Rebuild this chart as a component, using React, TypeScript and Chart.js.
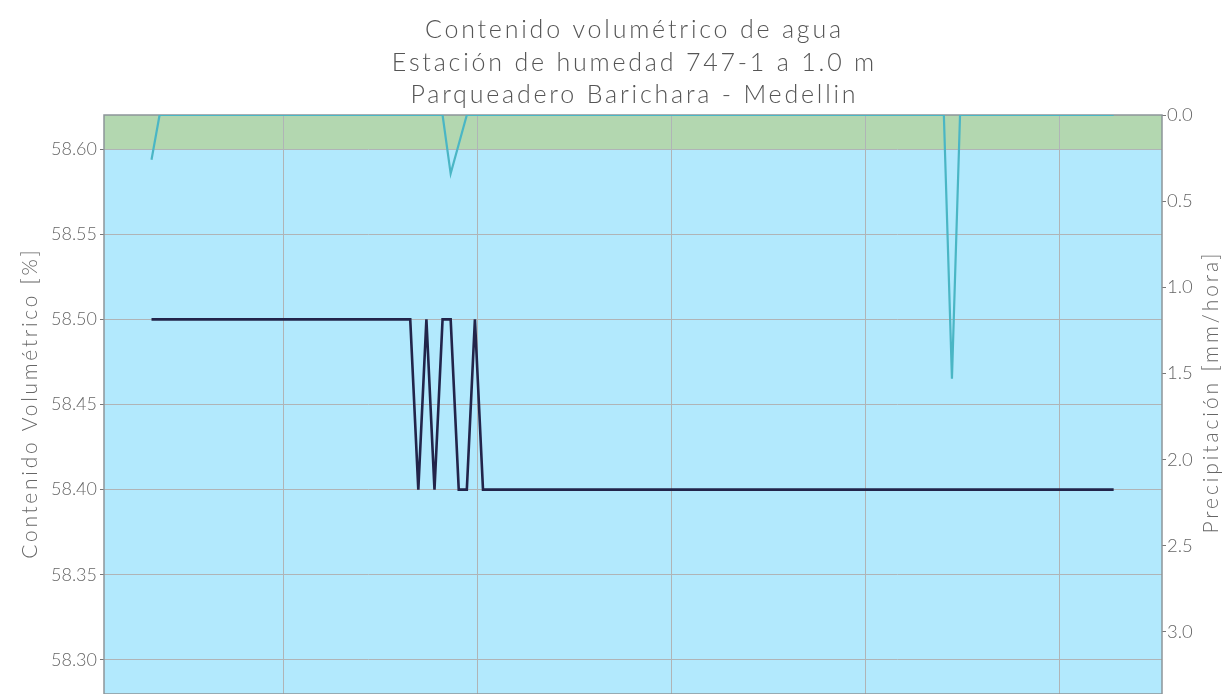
import React, { useEffect, useRef } from "react";
import { Chart, registerables } from "chart.js";

Chart.register(...registerables);

// ---- Data ----
const TITLE_LINES = [
  "Contenido volumétrico de agua",
  "Estación de humedad 747-1 a 1.0 m",
  "Parqueadero Barichara - Medellin",
];
const LEFT_TITLE = "Contenido Volumétrico [%]";
const RIGHT_TITLE = "Precipitación [mm/hora]";

// hours since first reading
const HORAS = [
  0, 1, 2, 3, 4, 5, 6, 7, 8, 9, 10, 11, 12, 13, 14, 15, 16, 17, 18, 19,
  20, 21, 22, 23, 24, 25, 26, 27, 28, 29, 30, 31, 32, 33, 34, 35, 36, 37, 38, 39,
  40, 41, 42, 43, 44, 45, 46, 47, 48, 49, 50, 51, 52, 53, 54, 55, 56, 57, 58, 59,
  60, 61, 62, 63, 64, 65, 66, 67, 68, 69, 70, 71, 72, 73, 74, 75, 76, 77, 78, 79,
  80, 81, 82, 83, 84, 85, 86, 87, 88, 89, 90, 91, 92, 93, 94, 95, 96, 97, 98, 99,
  100, 101, 102, 103, 104, 105, 106, 107, 108, 109, 110, 111, 112, 113, 114, 115, 116, 117, 118, 119,
];

const HUMEDAD = [
  58.5, 58.5, 58.5, 58.5, 58.5, 58.5, 58.5, 58.5, 58.5, 58.5, 58.5, 58.5, 58.5, 58.5, 58.5, 58.5, 58.5, 58.5, 58.5, 58.5,
  58.5, 58.5, 58.5, 58.5, 58.5, 58.5, 58.5, 58.5, 58.5, 58.5, 58.5, 58.5, 58.5, 58.4, 58.5, 58.4, 58.5, 58.5, 58.4, 58.4,
  58.5, 58.4, 58.4, 58.4, 58.4, 58.4, 58.4, 58.4, 58.4, 58.4, 58.4, 58.4, 58.4, 58.4, 58.4, 58.4, 58.4, 58.4, 58.4, 58.4,
  58.4, 58.4, 58.4, 58.4, 58.4, 58.4, 58.4, 58.4, 58.4, 58.4, 58.4, 58.4, 58.4, 58.4, 58.4, 58.4, 58.4, 58.4, 58.4, 58.4,
  58.4, 58.4, 58.4, 58.4, 58.4, 58.4, 58.4, 58.4, 58.4, 58.4, 58.4, 58.4, 58.4, 58.4, 58.4, 58.4, 58.4, 58.4, 58.4, 58.4,
  58.4, 58.4, 58.4, 58.4, 58.4, 58.4, 58.4, 58.4, 58.4, 58.4, 58.4, 58.4, 58.4, 58.4, 58.4, 58.4, 58.4, 58.4, 58.4, 58.4,
];

const PRECIPITACION = [
  0.26, 0, 0, 0, 0, 0, 0, 0, 0, 0, 0, 0, 0, 0, 0, 0, 0, 0, 0, 0,
  0, 0, 0, 0, 0, 0, 0, 0, 0, 0, 0, 0, 0, 0, 0, 0, 0, 0.34, 0.17, 0,
  0, 0, 0, 0, 0, 0, 0, 0, 0, 0, 0, 0, 0, 0, 0, 0, 0, 0, 0, 0,
  0, 0, 0, 0, 0, 0, 0, 0, 0, 0, 0, 0, 0, 0, 0, 0, 0, 0, 0, 0,
  0, 0, 0, 0, 0, 0, 0, 0, 0, 0, 0, 0, 0, 0, 0, 0, 0, 0, 0, 1.53,
  0, 0, 0, 0, 0, 0, 0, 0, 0, 0, 0, 0, 0, 0, 0, 0, 0, 0, 0, 0,
];

// day boundaries (midnight) in hours since first reading
const X_GRID = [16.3, 40.3, 64.3, 88.3, 112.3];
const X_MIN = -5.875;
const X_MAX = 124.98;

const Y_TICKS = [58.3, 58.35, 58.4, 58.45, 58.5, 58.55, 58.6];
const Y_MIN = 58.28;
const Y_MAX = 58.62;
const P_TICKS = [0, 0.5, 1.0, 1.5, 2.0, 2.5, 3.0];
const P_MIN = 0;
const P_MAX = 3.36;
const BAND_LIMIT = 58.6;

// ---- Styles ----
const FONT = "'Lato', 'Open Sans', sans-serif";
const GREEN = "#b3d7b0";
const BLUE = "#b2e9fd";
const GRID = "#b0b4b6";
const BORDER = "#8d9599";
const TEXT = "#666666";
const TITLE_COLOR = "#555555";
const HUM_COLOR = "#22244a";
const RAIN_COLOR = "#4ab6c5";

const decorPlugin = {
  id: "decor",
  beforeDraw(chart: any) {
    const { ctx, chartArea: a, scales } = chart;
    const yb = scales.y.getPixelForValue(BAND_LIMIT);
    ctx.save();
    ctx.fillStyle = GREEN;
    ctx.fillRect(a.left, a.top, a.right - a.left, yb - a.top);
    ctx.fillStyle = BLUE;
    ctx.fillRect(a.left, yb, a.right - a.left, a.bottom - yb);
    ctx.restore();
  },
  beforeDatasetsDraw(chart: any) {
    const { ctx, chartArea: a } = chart;
    ctx.save();
    ctx.strokeStyle = BORDER;
    ctx.lineWidth = 1.5;
    ctx.strokeRect(a.left, a.top, a.right - a.left, a.bottom - a.top);
    ctx.restore();
  },
  afterDraw(chart: any) {
    const { ctx, chartArea: a } = chart;
    const cx = (a.left + a.right) / 2;
    const cy = (a.top + a.bottom) / 2;
    ctx.save();
    ctx.textAlign = "center";
    ctx.textBaseline = "middle";
    // main title
    ctx.fillStyle = TITLE_COLOR;
    ctx.font = `300 25px ${FONT}`;
    (ctx as any).letterSpacing = "2.8px";
    TITLE_LINES.forEach((line, i) => {
      ctx.fillText(line, cx + 1.4, 30 + i * 32.5);
    });
    // axis titles
    ctx.fillStyle = TEXT;
    ctx.font = `300 21px ${FONT}`;
    (ctx as any).letterSpacing = "2.7px";
    ctx.save();
    ctx.translate(30, cy);
    ctx.rotate(-Math.PI / 2);
    ctx.fillText(LEFT_TITLE, 1.4, 0);
    ctx.restore();
    (ctx as any).letterSpacing = "2.9px";
    ctx.save();
    ctx.translate(1211, cy - 11);
    ctx.rotate(-Math.PI / 2);
    ctx.fillText(RIGHT_TITLE, 1.5, 0);
    ctx.restore();
    (ctx as any).letterSpacing = "0px";
    ctx.restore();
  },
};

export default function App() {
  const ref = useRef<HTMLCanvasElement | null>(null);

  useEffect(() => {
    if (!ref.current) return;
    const chart = new Chart(ref.current, {
      type: "line",
      data: {
        datasets: [
          {
            label: "Precipitación",
            data: HORAS.map((h, i) => ({ x: h, y: PRECIPITACION[i] })),
            yAxisID: "y1",
            borderColor: RAIN_COLOR,
            borderWidth: 2.2,
            pointRadius: 0,
            tension: 0,
          },
          {
            label: "Contenido volumétrico",
            data: HORAS.map((h, i) => ({ x: h, y: HUMEDAD[i] })),
            yAxisID: "y",
            borderColor: HUM_COLOR,
            borderWidth: 2.6,
            pointRadius: 0,
            tension: 0,
          },
        ],
      },
      options: {
        animation: false,
        responsive: true,
        maintainAspectRatio: false,
        layout: { padding: { top: 115, left: 0, right: 0, bottom: 0 } },
        plugins: {
          legend: { display: false },
          tooltip: { enabled: false },
          title: { display: false },
        },
        scales: {
          x: {
            type: "linear",
            min: X_MIN,
            max: X_MAX,
            afterBuildTicks: (s: any) => {
              s.ticks = X_GRID.map((v) => ({ value: v }));
            },
            afterFit: (s: any) => {
              s.height = 0;
              s.paddingLeft = 0;
              s.paddingRight = 0;
            },
            ticks: { display: false },
            grid: { color: GRID, lineWidth: 1, drawTicks: false },
            border: { display: false },
          },
          y: {
            type: "linear",
            position: "left",
            min: Y_MIN,
            max: Y_MAX,
            afterBuildTicks: (s: any) => {
              s.ticks = Y_TICKS.map((v) => ({ value: v }));
            },
            afterFit: (s: any) => {
              s.width = 104;
              s.paddingTop = 0;
              s.paddingBottom = 0;
            },
            ticks: {
              color: TEXT,
              font: { family: FONT, size: 18, weight: "300" },
              padding: 3,
              callback: (v: any) => Number(v).toFixed(2),
            },
            grid: { color: GRID, lineWidth: 1, tickLength: 4, tickColor: "#777" },
            border: { display: false },
          },
          y1: {
            type: "linear",
            position: "right",
            reverse: true,
            min: P_MIN,
            max: P_MAX,
            afterBuildTicks: (s: any) => {
              s.ticks = P_TICKS.map((v) => ({ value: v }));
            },
            afterFit: (s: any) => {
              s.width = 61;
              s.paddingTop = 0;
              s.paddingBottom = 0;
            },
            ticks: {
              color: TEXT,
              font: { family: FONT, size: 18.5, weight: "300" },
              padding: 1,
              callback: (v: any) => Number(v).toFixed(1),
            },
            grid: { drawOnChartArea: false, tickLength: 4, tickColor: "#777" },
            border: { display: false },
          },
        },
      },
      plugins: [decorPlugin],
    } as any);
    return () => chart.destroy();
  }, []);

  return (
    <div style={{ position: "fixed", left: 0, top: 0, width: 1223, height: 694 }}>
      <canvas ref={ref} />
    </div>
  );
}
